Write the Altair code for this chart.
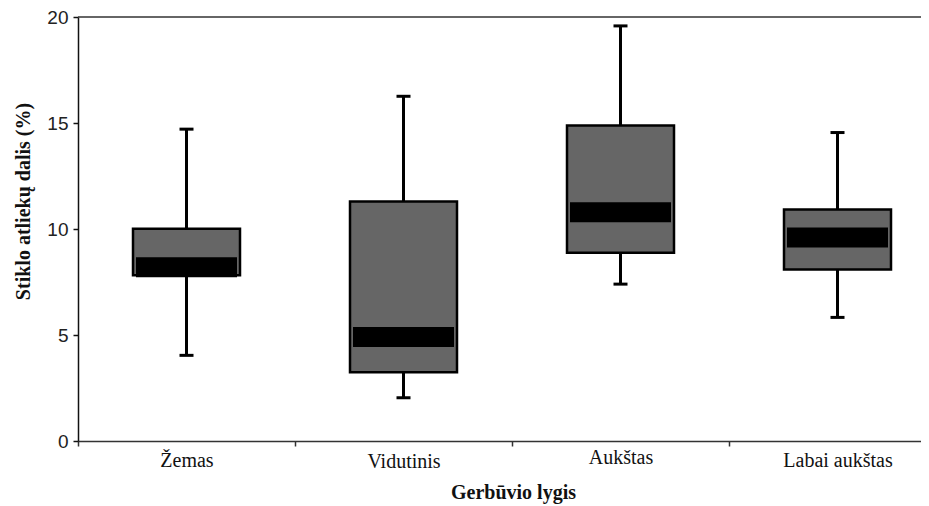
import altair as alt
import pandas as pd

categories = ["Žemas", "Vidutinis", "Aukštas", "Labai aukštas"]
whisker_low = [4.04, 2.04, 7.40, 5.83]
q1 = [7.82, 3.24, 8.88, 8.09]
median = [8.19, 4.90, 10.79, 9.60]
q3 = [10.01, 11.30, 14.88, 10.92]
whisker_high = [14.71, 16.26, 19.58, 14.55]

df = pd.DataFrame({
    "cat": categories,
    "low": whisker_low,
    "q1": q1,
    "med": median,
    "q3": q3,
    "high": whisker_high,
})

xscale = alt.Scale(domain=categories, range=[0, 868], paddingInner=0, paddingOuter=0)
yscale = alt.Scale(domain=[0, 20], nice=False, zero=True)

xaxis = alt.Axis(
    title="Gerbūvio lygis",
    labelAngle=0,
    labelFont="Liberation Serif",
    labelFontSize=20,
    labelColor="#111111",
    labelBaseline="alphabetic",
    labelPadding={"condition": [
        {"test": "datum.value === 'Vidutinis'", "value": 21},
        {"test": "datum.value === 'Aukštas'", "value": 17},
    ], "value": 20},
    tickBand="extent",
    tickSize=5,
    tickColor="#333333",
    tickWidth=1.5,
    domainColor="#333333",
    domainWidth=1.5,
    titleFont="Liberation Serif",
    titleFontSize=20,
    titleFontWeight="bold",
    titleColor="#111111",
    titleBaseline="alphabetic",
    titleX=435,
    titleY=57,
)

yaxis = alt.Axis(
    title="Stiklo atliekų dalis (%)",
    values=[0, 5, 10, 15, 20],
    grid=False,
    labelFont="Liberation Sans",
    labelFontSize=19,
    labelColor="#222222",
    labelPadding=5,
    tickSize=5,
    tickColor="#111111",
    tickWidth=1.5,
    domainColor="#111111",
    domainWidth=1.5,
    titleFont="Liberation Serif",
    titleFontSize=20,
    titleFontWeight="bold",
    titleColor="#111111",
    titleBaseline="alphabetic",
    titleAngle=270,
    titleX=-49,
    titleY=184,
)

base = alt.Chart(df)
X = alt.X("cat:N", scale=xscale, axis=xaxis, sort=categories)

whisker = base.mark_rule(color="black", strokeWidth=3).encode(
    x=X,
    y=alt.Y("low:Q", scale=yscale, axis=yaxis),
    y2="high:Q",
)
cap_low = base.mark_tick(color="black", size=14, thickness=3, opacity=1).encode(
    x=alt.X("cat:N", sort=categories), y=alt.Y("low:Q")
)
cap_high = base.mark_tick(color="black", size=14, thickness=3, opacity=1).encode(
    x=alt.X("cat:N", sort=categories), y=alt.Y("high:Q")
)
box = base.mark_bar(size=107, fill="#666666", stroke="black", strokeWidth=2.5).encode(
    x=alt.X("cat:N", sort=categories), y=alt.Y("q1:Q"), y2="q3:Q"
)
med = base.mark_tick(color="black", size=101, thickness=20, opacity=1).encode(
    x=alt.X("cat:N", sort=categories), y=alt.Y("med:Q")
)
topline = alt.Chart(pd.DataFrame({"a": [0]})).mark_rule(color="#333333", strokeWidth=1.5).encode(
    y=alt.value(0), x=alt.value(0), x2=alt.value(900)
)

chart = alt.layer(whisker, cap_low, cap_high, box, med, topline).properties(
    width=843,
    height=424,
    autosize=alt.AutoSizeParams(type="none"),
    padding={"left": 70, "top": 9, "right": 0, "bottom": 63},
).configure_view(strokeWidth=0)

chart.save("out.html", embed_options={"renderer": "svg", "actions": False})
